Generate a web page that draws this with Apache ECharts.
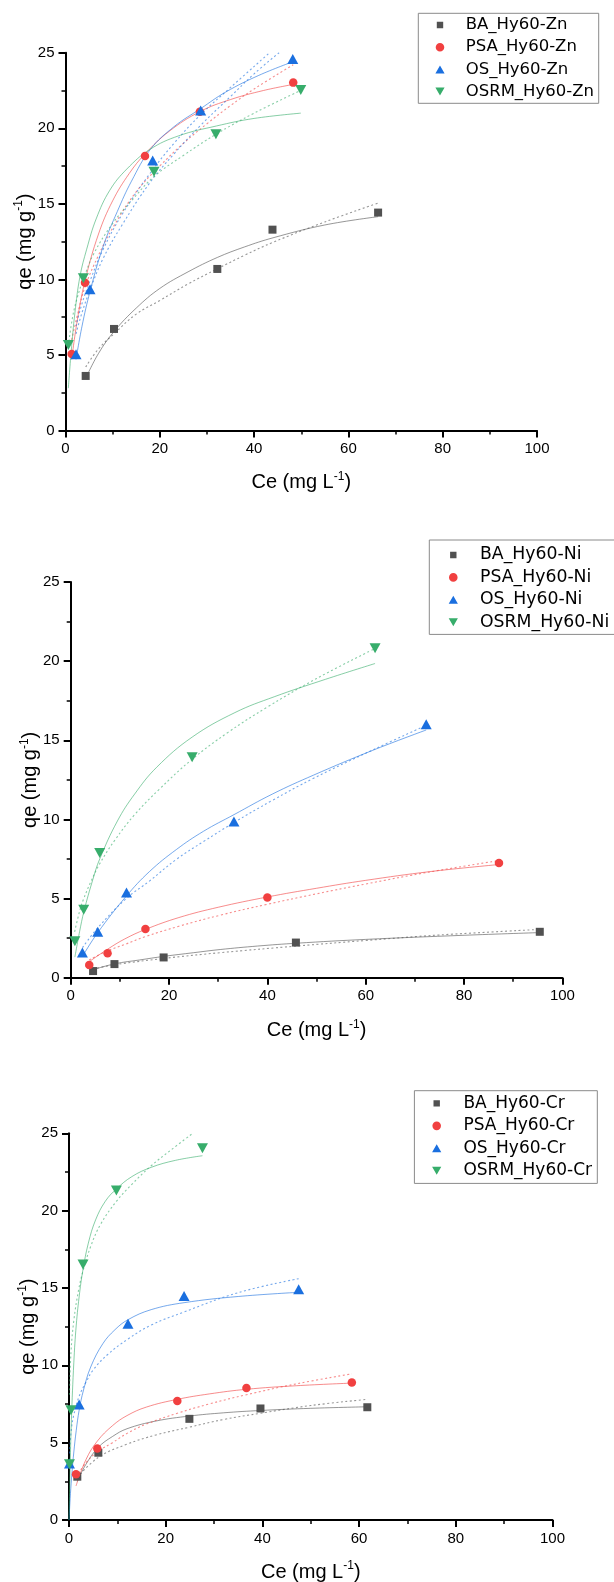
<!DOCTYPE html>
<html>
<head>
<meta charset="utf-8">
<script src="https://cdn.jsdelivr.net/npm/echarts/dist/echarts.min.js"></script>
<style>
  html, body { margin: 0; padding: 0; background: #ffffff; }
  #chart { width: 614px; height: 1582px; }
</style>
</head>
<body>
<div id="chart"></div>
<script>
// Sorbents shown in every panel, and the metal of each panel
const sorbents = ['BA', 'PSA', 'OS', 'OSRM'];
const metals = ['Zn', 'Ni', 'Cr'];
const palette = ['#515151', '#F14040', '#1A6FDF', '#37AD6B'];

// ---- Zn: measured points [Ce, qe] ----
const znBA   = [[4.28, 3.61], [10.29, 6.72], [32.2, 10.69], [43.9, 13.29], [66.3, 14.42]];
const znPSA  = [[1.31, 5.06], [4.14, 9.78], [16.86, 18.17], [28.5, 21.1], [48.3, 23.02]];
const znOS   = [[2.23, 5.04], [5.2, 9.34], [18.49, 17.86], [28.67, 21.17], [48.2, 24.59]];
const znOSRM = [[0.6, 5.66], [3.78, 10.07], [18.77, 17.13], [31.9, 19.6], [49.9, 22.53]];

// Zn: solid fitted curves
const znBAFitA   = [[4.28, 3.45], [7, 5.1], [10.29, 6.55], [15, 8.1], [20, 9.4], [26, 10.5], [32.2, 11.45], [38, 12.15], [44, 12.75], [55, 13.6], [66.3, 14.15]];
const znPSAFitA  = [[1.31, 4.7], [2.5, 7.3], [4.14, 9.9], [7, 13.0], [10, 15.2], [13.5, 17.0], [16.86, 18.3], [22, 19.8], [28.5, 21.1], [35, 21.9], [42, 22.5], [48.3, 22.9]];
const znOSFitA   = [[2.23, 4.7], [3.5, 6.9], [5.2, 9.2], [8, 12.2], [11, 14.5], [14, 16.5], [18, 18.6], [23, 20.1], [28.67, 21.3], [34, 22.4], [41, 23.5], [48.2, 24.4]];
const znOSRMFitA = [[0.6, 2.8], [1.2, 5.2], [2.0, 7.8], [3.07, 10.2], [4.5, 12.0], [6.5, 14.0], [9.4, 15.9], [13, 17.3], [17.9, 18.6], [24, 19.5], [32, 20.15], [40, 20.65], [49.9, 21.0]];

// Zn: dotted fitted curves
const znBAFitB   = [[4.28, 4.2], [7, 5.4], [10.29, 6.4], [15, 7.7], [20, 8.6], [26, 9.7], [32.2, 10.7], [38, 11.6], [44, 12.45], [55, 13.8], [66.3, 15.05]];
const znPSAFitB  = [[1.31, 6.0], [2.5, 7.6], [4.14, 9.5], [7, 11.6], [10, 13.4], [15, 15.8], [20, 17.5], [25, 19.0], [30, 20.3], [35, 21.5], [40, 22.6], [48.3, 24.2]];
const znOSFitB   = [[2.23, 6.4], [3.5, 7.8], [5.2, 9.3], [8, 11.4], [12, 13.6], [17.9, 16.4], [23, 18.3], [28.67, 20.2], [35, 22.1], [40, 23.6], [45.3, 25.0]];
const znOSFitC   = [[2.23, 6.9], [3.5, 8.4], [5.2, 9.9], [8, 12.0], [12, 14.3], [17.9, 17.0], [23, 19.0], [28.67, 20.9], [35, 22.7], [43.3, 25.0]];
const znOSRMFitB = [[0.6, 5.6], [1.5, 7.5], [2.5, 8.8], [3.78, 10.0], [6, 11.7], [10, 13.7], [14, 15.2], [18.77, 16.8], [25, 18.2], [31.9, 19.6], [40, 21.0], [49.9, 22.5]];

// ---- Ni: measured points ----
const niBA   = [[4.55, 0.42], [8.9, 0.86], [18.9, 1.28], [45.8, 2.22], [95.4, 2.9]];
const niPSA  = [[3.77, 0.8], [7.5, 1.54], [15.2, 3.07], [40.0, 5.07], [87.1, 7.25]];
const niOS   = [[2.38, 1.6], [5.5, 2.9], [11.35, 5.38], [33.2, 9.87], [72.3, 16.02]];
const niOSRM = [[0.85, 2.3], [2.65, 4.3], [5.9, 7.88], [24.7, 13.93], [61.9, 20.82]];

// Ni: solid fitted curves
const niBAFitA   = [[4.5, 0.5], [9, 0.88], [14, 1.12], [19, 1.35], [25, 1.58], [30.4, 1.78], [38, 2.0], [46, 2.18], [60, 2.42], [80, 2.68], [95.4, 2.85]];
const niPSAFitA  = [[3.7, 1.0], [7.5, 1.8], [11, 2.45], [15.2, 3.05], [22, 3.8], [30, 4.45], [40, 5.1], [50, 5.65], [60, 6.15], [73, 6.7], [87.1, 7.15]];
const niOSFitA   = [[2.4, 1.35], [5.5, 2.85], [11.3, 5.15], [16, 6.7], [21.5, 8.1], [27, 9.25], [33.2, 10.3], [41, 11.6], [49.4, 12.8], [61.3, 14.35], [72.3, 15.65]];
const niOSRMFitA = [[0.85, 1.3], [1.8, 2.9], [2.7, 4.2], [4.5, 6.2], [5.9, 7.5], [9.5, 9.9], [13, 11.6], [17.5, 13.3], [24.7, 15.2], [33.4, 16.75], [41.4, 17.75], [51.8, 18.85], [61.9, 19.85]];

// Ni: dotted fitted curves
const niBAFitB   = [[4.5, 0.55], [9, 0.82], [19, 1.22], [30.4, 1.58], [46, 2.0], [60, 2.35], [75, 2.7], [95.4, 3.05]];
const niPSAFitB  = [[3.75, 1.12], [7.5, 1.7], [11, 2.1], [15.2, 2.6], [22, 3.25], [30.4, 3.95], [40, 4.64], [50, 5.3], [60, 5.92], [73, 6.68], [87.1, 7.4]];
const niOSFitB   = [[2.4, 1.9], [5.5, 3.15], [11.3, 5.0], [16, 6.1], [21.5, 7.48], [27, 8.6], [33.2, 9.8], [41, 11.2], [49.4, 12.6], [61.3, 14.37], [72.3, 15.95]];
const niOSRMFitB = [[0.8, 2.9], [1.9, 4.3], [2.6, 4.95], [4, 6.0], [5.9, 7.2], [9, 8.7], [13, 10.3], [18, 11.9], [24.7, 13.8], [32, 15.5], [40, 17.1], [50, 18.9], [61.9, 20.8]];

// ---- Cr: measured points ----
const crBA   = [[1.72, 2.8], [6.07, 4.35], [24.9, 6.54], [39.6, 7.21], [61.7, 7.29]];
const crPSA  = [[1.45, 2.95], [5.86, 4.63], [22.4, 7.7], [36.7, 8.54], [58.5, 8.89]];
const crOS   = [[0.1, 3.66], [2.1, 7.47], [12.2, 12.69], [23.8, 14.48], [47.5, 14.91]];
const crOSRM = [[0.1, 3.6], [0.4, 7.1], [2.9, 16.52], [9.8, 21.3], [27.6, 24.03]];

// Cr: solid fitted curves
const crBAFitA   = [[1.72, 2.5], [3.5, 3.6], [6.07, 4.7], [9, 5.4], [12, 5.9], [18, 6.4], [24.9, 6.72], [32, 6.93], [39.6, 7.08], [50, 7.22], [61.7, 7.32]];
const crPSAFitA  = [[1.45, 2.2], [3.5, 3.9], [5.86, 5.1], [9, 6.1], [12, 6.75], [16, 7.3], [22.4, 7.8], [29, 8.15], [36.7, 8.45], [47, 8.68], [58.5, 8.85]];
const crOSFitA   = [[0, 0], [0.1, 0.6], [0.3, 1.7], [0.6, 3.0], [1.0, 4.4], [1.5, 5.8], [2.1, 7.1], [3, 8.4], [4.5, 9.9], [7, 11.4], [9.5, 12.3], [12.2, 12.95], [17, 13.6], [23.8, 14.05], [35, 14.45], [47.5, 14.72]];
const crOSRMFitA = [[0, 0], [0.1, 1.5], [0.25, 3.6], [0.5, 6.5], [1, 10.2], [1.5, 12.6], [2.2, 14.7], [2.9, 16.2], [4, 17.9], [5.5, 19.4], [7.5, 20.6], [9.8, 21.4], [13, 22.2], [17, 22.8], [22, 23.25], [27.6, 23.55]];

// Cr: dotted fitted curves
const crBAFitB   = [[1.72, 2.75], [6.07, 4.05], [12, 4.9], [18, 5.5], [24.9, 6.0], [32, 6.5], [39.6, 6.9], [50, 7.4], [61.7, 7.8]];
const crPSAFitB  = [[1.45, 2.75], [3.5, 3.7], [5.86, 4.4], [9, 5.0], [12, 5.6], [16, 6.2], [22.4, 6.9], [29, 7.5], [36.7, 8.1], [47, 8.8], [58.5, 9.45]];
const crOSFitB   = [[0.1, 4.3], [0.5, 5.9], [1, 6.8], [2.1, 8.0], [3.5, 8.9], [5, 9.7], [8, 10.7], [12.2, 11.7], [17, 12.6], [23.8, 13.45], [35, 14.7], [47.5, 15.6]];
const crOSRMFitB = [[0.1, 8.1], [0.4, 10.8], [1, 12.9], [2, 14.9], [2.9, 16.1], [4.5, 17.7], [6.5, 19.1], [9.8, 20.6], [13, 21.7], [17, 22.9], [21, 23.9], [25.6, 25.0]];

// Per-panel grouping of the arrays above
const panelData = [
  { points: [znBA, znPSA, znOS, znOSRM],
    solid:  [znBAFitA, znPSAFitA, znOSFitA, znOSRMFitA],
    dotted: [[znBAFitB], [znPSAFitB], [znOSFitB, znOSFitC], [znOSRMFitB]] },
  { points: [niBA, niPSA, niOS, niOSRM],
    solid:  [niBAFitA, niPSAFitA, niOSFitA, niOSRMFitA],
    dotted: [[niBAFitB], [niPSAFitB], [niOSFitB], [niOSRMFitB]] },
  { points: [crBA, crPSA, crOS, crOSRM],
    solid:  [crBAFitA, crPSAFitA, crOSFitA, crOSRMFitA],
    dotted: [[crBAFitB], [crPSAFitB], [crOSFitB], [crOSRMFitB]] }
];

// Layout of the three stacked plots and their legend boxes
const grids = [
  { left: 65.5, top: 52.7, width: 471.5, height: 377.8 },
  { left: 70.7, top: 582,  width: 491.7, height: 395.7 },
  { left: 69,   top: 1133.3, width: 483.5, height: 386.7 }
];
const legendBoxes = [
  { left: 418.3, top: 13.3,   fontSize: 16.5, padding: [0.6, 4.7, 0.6, 16.7], textPad: 15.7, lineHeight: 22.2 },
  { left: 429.3, top: 540,    fontSize: 17.3, padding: [3.8, 6, 1, 19],       textPad: 16.7, lineHeight: 22.4 },
  { left: 414.4, top: 1090.7, fontSize: 17,   padding: [1.4, 5.3, 1.3, 17.3], textPad: 16.7, lineHeight: 22.5 }
];
const yNameGaps = [28.5, 28.4, 28.4];
const xNameGaps = [40, 41, 40];

// Marker shapes: square, circle, up triangle, down triangle
const markers = [
  { symbol: 'rect', size: 8, rotate: 0 },
  { symbol: 'circle', size: 8.5, rotate: 0 },
  { symbol: 'triangle', size: [11, 10], rotate: 0 },
  { symbol: 'triangle', size: [11, 10], rotate: 180 }
];
// Legend icons inside a 10x10 box (corner points fix the box size)
const legendIcons = [
  'path://M0,0L0.01,0M10,10L10.01,10M1.8,1.8L8.2,1.8L8.2,8.2L1.8,8.2Z',
  'path://M0,0L0.01,0M10,10L10.01,10M9.3,5A4.3,4.3,0,1,1,0.7,5A4.3,4.3,0,1,1,9.3,5Z',
  'path://M0,0L0.01,0M10,10L10.01,10M0.4,9L5,1L9.6,9Z',
  'path://M0,0L0.01,0M10,10L10.01,10M0.4,1L9.6,1L5,9Z'
];

const axisFont = 'Liberation Sans, Arial, Helvetica, sans-serif';
const nameRich = {
  base: { fontFamily: axisFont, fontSize: 20, color: '#000', lineHeight: 24 },
  sup:  { fontFamily: axisFont, fontSize: 12, color: '#000', lineHeight: 12, verticalAlign: 'top', padding: [0, 0, 9, 0] }
};

const xAxes = [], yAxes = [], legends = [], series = [];

metals.forEach((metal, p) => {
  xAxes.push({
    type: 'value', gridIndex: p, min: 0, max: 100, interval: 20,
    name: '{base|Ce (mg L}{sup|-1}{base|)}',
    nameLocation: 'middle', nameGap: xNameGaps[p], nameMoveOverlap: false,
    nameTextStyle: { rich: nameRich },
    axisLine: { show: true, onZero: false, lineStyle: { color: '#000', width: 2 } },
    axisTick: { show: true, inside: false, length: 7, lineStyle: { color: '#000', width: 2 } },
    minorTick: { show: true, splitNumber: 2, length: 4, lineStyle: { color: '#000', width: 1.5 } },
    splitLine: { show: false },
    minorSplitLine: { show: false },
    axisLabel: { color: '#000', fontFamily: axisFont, fontSize: 15, margin: 11 }
  });
  yAxes.push({
    type: 'value', gridIndex: p, min: 0, max: 25, interval: 5,
    name: '{base|qe (mg g}{sup|-1}{base|)}',
    nameLocation: 'middle', nameGap: yNameGaps[p], nameMoveOverlap: false,
    nameTextStyle: { rich: nameRich },
    axisLine: { show: true, onZero: false, lineStyle: { color: '#000', width: 2 } },
    axisTick: { show: true, inside: false, length: 7, lineStyle: { color: '#000', width: 2 } },
    minorTick: { show: true, splitNumber: 2, length: 4, lineStyle: { color: '#000', width: 1.5 } },
    splitLine: { show: false },
    minorSplitLine: { show: false },
    axisLabel: { color: '#000', fontFamily: axisFont, fontSize: 15, margin: 11 }
  });

  const lb = legendBoxes[p];
  legends.push({
    show: true, orient: 'vertical', left: lb.left, top: lb.top,
    padding: lb.padding, itemGap: 0, itemWidth: 10, itemHeight: 10,
    selectedMode: false,
    borderColor: '#8a8a8a', borderWidth: 1, borderRadius: 0, backgroundColor: '#ffffff',
    textStyle: { color: '#000', fontFamily: 'DejaVu Sans, sans-serif', fontSize: lb.fontSize,
                 lineHeight: lb.lineHeight, padding: [0, 0, 0, lb.textPad] },
    data: sorbents.map((s, i) => ({ name: s + '_Hy60-' + metal, icon: legendIcons[i] }))
  });

  const d = panelData[p];
  sorbents.forEach((s, i) => {
    const c = palette[i];
    series.push({
      type: 'line', name: s + '_Hy60-' + metal + ' fit', xAxisIndex: p, yAxisIndex: p,
      data: d.solid[i], showSymbol: false, symbol: 'none', smooth: 0.4,
      lineStyle: { color: c, width: 1, opacity: 0.6 }, silent: true, z: 2, animation: false
    });
    d.dotted[i].forEach((curve, k) => {
      series.push({
        type: 'line', name: s + '_Hy60-' + metal + ' fit-' + (k + 2), xAxisIndex: p, yAxisIndex: p,
        data: curve, showSymbol: false, symbol: 'none', smooth: 0.4,
        lineStyle: { color: c, width: 1.1, opacity: 0.6, type: [2, 2.5] }, silent: true, z: 2, animation: false
      });
    });
  });
  sorbents.forEach((s, i) => {
    series.push({
      type: 'scatter', name: s + '_Hy60-' + metal, xAxisIndex: p, yAxisIndex: p,
      data: d.points[i], symbol: markers[i].symbol, symbolSize: markers[i].size,
      symbolRotate: markers[i].rotate,
      itemStyle: { color: palette[i], opacity: 1 }, z: 4, animation: false
    });
  });
});

const chart = echarts.init(document.getElementById('chart'), null, { renderer: 'canvas' });
chart.setOption({
  backgroundColor: '#ffffff',
  animation: false,
  grid: grids.map(g => Object.assign({ containLabel: false, outerBoundsMode: 'none' }, g)),
  xAxis: xAxes,
  yAxis: yAxes,
  legend: legends,
  series: series
});
</script>
</body>
</html>
